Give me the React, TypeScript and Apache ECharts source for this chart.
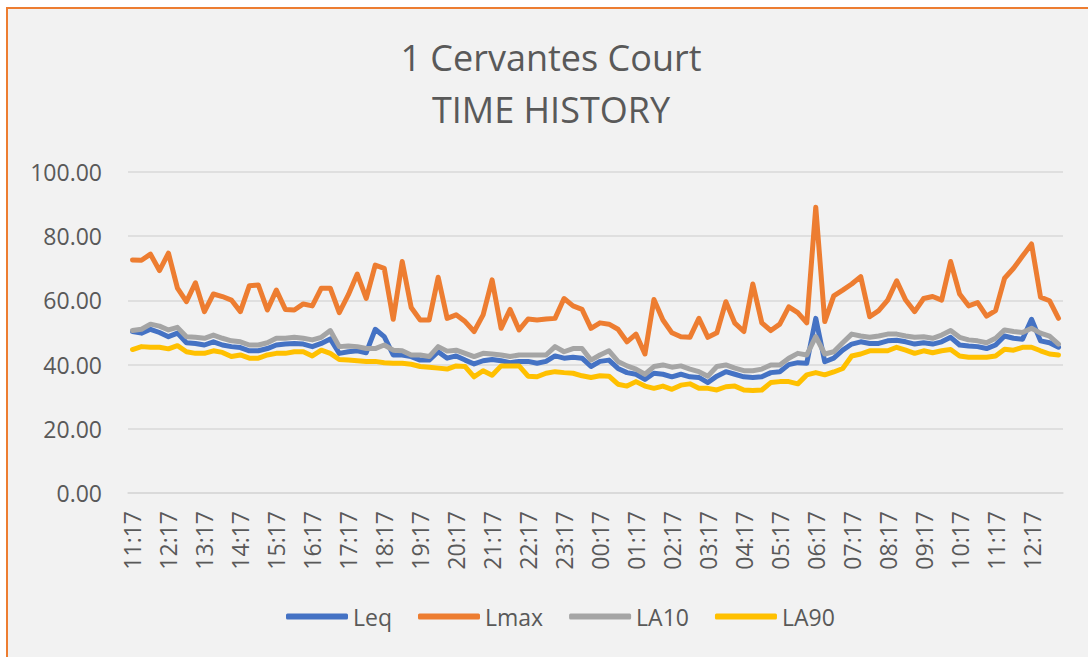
import React, { useEffect, useRef } from "react";
import * as echarts from "echarts";

const times: string[] = [
  "11:17","11:32","11:47","12:02","12:17","12:32","12:47","13:02",
  "13:17","13:32","13:47","14:02","14:17","14:32","14:47","15:02",
  "15:17","15:32","15:47","16:02","16:17","16:32","16:47","17:02",
  "17:17","17:32","17:47","18:02","18:17","18:32","18:47","19:02",
  "19:17","19:32","19:47","20:02","20:17","20:32","20:47","21:02",
  "21:17","21:32","21:47","22:02","22:17","22:32","22:47","23:02",
  "23:17","23:32","23:47","00:02","00:17","00:32","00:47","01:02",
  "01:17","01:32","01:47","02:02","02:17","02:32","02:47","03:02",
  "03:17","03:32","03:47","04:02","04:17","04:32","04:47","05:02",
  "05:17","05:32","05:47","06:02","06:17","06:32","06:47","07:02",
  "07:17","07:32","07:47","08:02","08:17","08:32","08:47","09:02",
  "09:17","09:32","09:47","10:02","10:17","10:32","10:47","11:02",
  "11:17","11:32","11:47","12:02","12:17","12:32","12:47","13:02",
];

const leq: number[] = [
  50.3, 49.8, 51.0, 50.0, 48.7, 49.8, 46.8, 46.6, 46.1, 47.1, 46.1, 45.6, 45.3, 44.3, 44.3, 45.0,
  46.1, 46.4, 46.6, 46.4, 45.6, 46.6, 48.0, 43.5, 44.0, 44.3, 43.7, 51.0, 48.7, 43.0, 43.0, 42.5,
  41.4, 41.4, 44.0, 42.0, 42.7, 41.4, 40.2, 41.2, 41.6, 41.2, 40.6, 41.0, 41.0, 40.4, 41.0, 42.7,
  42.0, 42.3, 42.0, 39.4, 41.0, 41.4, 38.8, 37.5, 37.0, 35.4, 37.3, 37.0, 36.2, 37.0, 36.2, 36.0,
  34.4, 36.4, 37.8, 37.0, 36.2, 36.0, 36.2, 37.5, 37.8, 40.0, 40.6, 40.4, 54.4, 40.9, 42.0, 44.5,
  46.4, 47.1, 46.6, 46.6, 47.4, 47.6, 47.1, 46.4, 46.8, 46.4, 47.1, 48.5, 46.1, 45.8, 45.6, 45.0,
  46.1, 48.9, 48.2, 47.9, 54.1, 47.4, 46.8, 45.4,
];

const lmax: number[] = [
  72.6, 72.5, 74.4, 69.3, 74.7, 63.8, 59.6, 65.5, 56.5, 62.0, 61.2, 60.1, 56.5, 64.6, 64.8, 57.0,
  63.2, 57.2, 57.0, 58.9, 58.3, 63.8, 63.8, 56.2, 61.7, 68.2, 60.6, 71.0, 70.0, 54.1, 72.1, 57.8,
  53.9, 53.9, 67.2, 54.4, 55.5, 53.4, 50.3, 55.5, 66.4, 51.3, 57.2, 50.8, 54.2, 53.9, 54.2, 54.4,
  60.6, 58.3, 57.2, 51.3, 53.0, 52.6, 51.0, 47.1, 49.5, 43.3, 60.3, 53.9, 49.9, 48.7, 48.5, 54.4,
  48.5, 49.9, 59.6, 52.9, 50.3, 65.1, 53.0, 50.6, 52.6, 58.0, 56.2, 53.0, 89.0, 53.4, 61.4, 63.2,
  65.1, 67.4, 54.9, 56.8, 60.1, 66.1, 60.1, 56.5, 60.6, 61.2, 60.1, 72.1, 62.0, 58.3, 59.3, 55.1,
  56.8, 66.9, 70.0, 73.8, 77.6, 61.0, 59.9, 54.4,
];

const la10: number[] = [
  50.6, 51.0, 52.6, 52.0, 50.8, 51.6, 48.7, 48.5, 48.2, 49.2, 48.2, 47.4, 47.1, 46.1, 46.1, 46.8,
  48.2, 48.2, 48.5, 48.2, 47.7, 48.5, 50.6, 45.6, 45.8, 45.6, 45.0, 45.0, 46.1, 44.5, 44.3, 43.0,
  43.0, 42.5, 45.6, 44.2, 44.5, 43.5, 42.5, 43.5, 43.3, 43.0, 42.5, 43.0, 43.0, 43.0, 43.0, 45.6,
  44.0, 45.0, 45.0, 41.4, 43.0, 44.3, 41.0, 39.6, 38.6, 37.0, 39.4, 39.9, 39.2, 39.6, 38.6, 37.8,
  36.4, 39.4, 39.9, 38.9, 38.1, 38.1, 38.6, 39.9, 39.9, 42.0, 43.5, 43.0, 48.7, 43.3, 44.0, 46.8,
  49.5, 48.9, 48.5, 48.9, 49.5, 49.5, 48.9, 48.5, 48.7, 48.2, 49.2, 50.6, 48.5, 47.7, 47.4, 46.8,
  48.2, 50.8, 50.3, 50.0, 51.3, 49.8, 48.9, 46.4,
];

const la90: number[] = [
  44.7, 45.6, 45.4, 45.4, 44.9, 45.9, 44.0, 43.5, 43.5, 44.3, 43.8, 42.5, 43.0, 42.0, 42.0, 43.0,
  43.5, 43.5, 44.0, 44.0, 42.7, 44.5, 43.5, 41.6, 41.4, 41.2, 41.0, 41.0, 40.6, 40.4, 40.4, 40.1,
  39.4, 39.2, 38.9, 38.6, 39.6, 39.4, 36.2, 38.1, 36.7, 39.6, 39.6, 39.6, 36.4, 36.2, 37.3, 37.8,
  37.5, 37.3, 36.5, 36.0, 36.5, 36.4, 33.9, 33.3, 34.7, 33.3, 32.6, 33.3, 32.3, 33.6, 34.0, 32.6,
  32.6, 32.1, 33.1, 33.3, 32.1, 31.9, 32.1, 34.4, 34.7, 34.7, 34.0, 36.8, 37.5, 36.8, 37.7, 38.8,
  42.7, 43.3, 44.3, 44.3, 44.3, 45.4, 44.5, 43.5, 44.3, 43.7, 44.3, 44.7, 42.7, 42.3, 42.3, 42.3,
  42.7, 44.8, 44.5, 45.4, 45.4, 44.3, 43.3, 43.0,
];

const seriesNames = ["Leq", "Lmax", "LA10", "LA90"];
const seriesColors = ["#4472C4", "#ED7D31", "#A5A5A5", "#FFC000"];
const titleLines = ["1 Cervantes Court", "TIME HISTORY"];

const FONT = "'Open Sans', 'Noto Sans', sans-serif";
const TEXT = "#595959";

export default function App() {
  const ref = useRef<HTMLDivElement>(null);

  useEffect(() => {
    if (!ref.current) return;
    const chart = echarts.init(ref.current, undefined, { renderer: "svg" });
    const dataSets = [leq, lmax, la10, la90];
    chart.setOption({
      animation: false,
      backgroundColor: "#F2F2F2",
      textStyle: { fontFamily: FONT },
      graphic: [
        {
          type: "text",
          x: 543,
          y: 48,
          style: {
            text: titleLines[0],
            fontSize: 36,
            fontFamily: FONT,
            fill: TEXT,
            textAlign: "center",
            textVerticalAlign: "middle",
          },
        },
        {
          type: "text",
          x: 543,
          y: 100,
          style: {
            text: titleLines[1],
            fontSize: 36,
            fontFamily: FONT,
            fill: TEXT,
            textAlign: "center",
            textVerticalAlign: "middle",
          },
        },
      ],
      legend: {
        data: seriesNames,
        left: 273,
        top: 591,
        icon: "roundRect",
        itemWidth: 62,
        itemHeight: 6,
        itemGap: 26,
        textStyle: { fontSize: 23, color: TEXT, fontFamily: FONT },
      },
      grid: { left: 120, top: 163, width: 935, height: 321, containLabel: false },
      xAxis: {
        type: "category",
        data: times,
        boundaryGap: true,
        axisLine: { show: true, lineStyle: { color: "#D9D9D9", width: 1.5 } },
        axisTick: { show: false },
        axisLabel: {
          interval: 3,
          rotate: 90,
          margin: 18,
          fontSize: 23,
          color: TEXT,
          fontFamily: FONT,
        },
        splitLine: { show: false },
      },
      yAxis: {
        type: "value",
        min: 0,
        max: 100,
        interval: 20,
        axisLine: { show: false },
        axisTick: { show: false },
        axisLabel: {
          margin: 26,
          fontSize: 23,
          color: TEXT,
          fontFamily: FONT,
          formatter: (v: number) => v.toFixed(2),
        },
        splitLine: { lineStyle: { color: "#D9D9D9", width: 1.5 } },
      },
      series: seriesNames.map((name, i) => ({
        name,
        type: "line",
        data: dataSets[i],
        symbol: "none",
        color: seriesColors[i],
        lineStyle: { width: 5, color: seriesColors[i], cap: "round", join: "round" },
      })),
    });
    return () => chart.dispose();
  }, []);

  return (
    <div
      style={{
        position: "fixed",
        left: 6,
        top: 7,
        width: 1082,
        height: 650,
        boxSizing: "border-box",
        borderLeft: "2px solid #ED7D31",
        borderTop: "2px solid #ED7D31",
        background: "#F2F2F2",
        overflow: "hidden",
      }}
    >
      <div ref={ref} style={{ width: 1080, height: 648 }} />
    </div>
  );
}
